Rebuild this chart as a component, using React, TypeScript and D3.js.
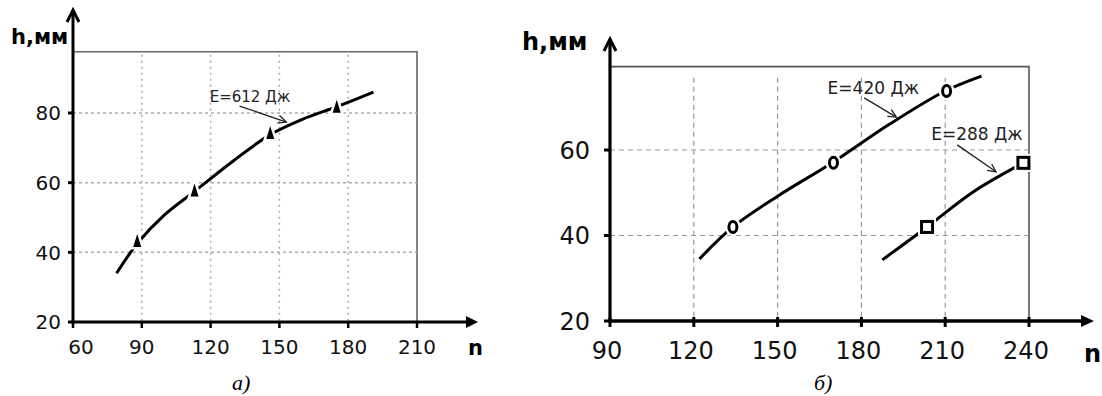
import React from 'react'
import * as d3 from 'd3'

// panel а) E=612 Дж
const leftTicksX = [60, 90, 120, 150, 180, 210]
const leftTicksY = [20, 40, 60, 80]
const leftCurveN = [79, 88, 100, 113, 130, 146, 160, 175, 191]
const leftCurveH = [34, 42.5, 50.8, 57.5, 66.3, 73.8, 78.2, 81.8, 86]
const leftMarkN = [88, 113, 146, 175]
const leftMarkH = [43, 57.5, 74, 81.5]

// panel б) E=420 Дж and E=288 Дж
const rightTicksX = [90, 120, 150, 180, 210, 240]
const rightTicksY = [20, 40, 60]
const e420CurveN = [122, 134, 150, 170, 190, 210, 223]
const e420CurveH = [34.5, 42, 49.2, 57.2, 66, 73.8, 77.3]
const e420MarkN = [134, 170, 210.5]
const e420MarkH = [42, 57, 73.8]
const e288CurveN = [187.5, 203.5, 220, 238]
const e288CurveH = [34.3, 42, 50.2, 57]
const e288MarkN = [203.5, 238]
const e288MarkH = [42, 57]

const sans = 'DejaVu Sans, sans-serif'

const zip = (a: number[], b: number[]) => a.map((v, i) => [v, b[i]] as [number, number])

type Note = { label: string, tx: number, ty: number, x1: number, y1: number, x2: number, y2: number }

const arrowNote = (n: Note, x: any, y: any, fs: number, key: string) => {
  const ax1 = x(n.x1), ay1 = y(n.y1), ax2 = x(n.x2), ay2 = y(n.y2)
  const ang = Math.atan2(ay2 - ay1, ax2 - ax1)
  const len = 9
  const p1 = [ax2 - len * Math.cos(ang - 0.45), ay2 - len * Math.sin(ang - 0.45)]
  const p2 = [ax2 - len * Math.cos(ang + 0.45), ay2 - len * Math.sin(ang + 0.45)]
  return (
    <g key={key}>
      <text x={x(n.tx)} y={y(n.ty)} fontFamily={sans} fontSize={fs} fill='#222'>{n.label}</text>
      <line x1={ax1} y1={ay1} x2={ax2} y2={ay2} stroke='#222' strokeWidth={1.3} />
      <path d={`M${p1[0]},${p1[1]}L${ax2},${ay2}L${p2[0]},${p2[1]}`} fill='none' stroke='#222' strokeWidth={1.3} />
    </g>
  )
}

function LeftPanel () {
  const x = d3.scaleLinear().domain([60, 210]).range([73, 417])
  const y = d3.scaleLinear().domain([20, 80]).range([322, 113])
  const top = y(97.6)
  const line = d3.line<[number, number]>().x(d => x(d[0])).y(d => y(d[1])).curve(d3.curveCatmullRom)
  const note: Note = { label: 'E=612 Дж', tx: 119.6, ty: 83.2, x1: 132.6, y1: 82, x2: 153, y2: 77.4 }
  const tri = (cx: number, cy: number) => `M${cx},${cy - 8}L${cx + 4},${cy + 5}L${cx - 4},${cy + 5}Z`
  return (
    <g>
      {/* frame */}
      <path d={`M${x(60)},${top}H${x(210)}V${y(20)}`} fill='none' stroke='#666' strokeWidth={1.6} />
      {/* grid */}
      {leftTicksX.slice(1, -1).map(t => (
        <line key={'gx' + t} x1={x(t)} x2={x(t)} y1={top + 3} y2={y(20)} stroke='#aaa' strokeWidth={1.5} strokeDasharray='2,4' />
      ))}
      {leftTicksY.slice(1).map(t => (
        <line key={'gy' + t} x1={x(60)} x2={x(210)} y1={y(t)} y2={y(t)} stroke='#aaa' strokeWidth={1.5} strokeDasharray='3,3' />
      ))}
      {/* axes */}
      <line x1={x(60)} x2={x(60)} y1={y(20)} y2={10} stroke='#000' strokeWidth={3} />
      <path d={`M${x(60) - 6},${22}L${x(60)},${10}L${x(60) + 6},${22}`} fill='none' stroke='#000' strokeWidth={3} />
      <line x1={x(60) - 1.5} x2={468} y1={y(20)} y2={y(20)} stroke='#000' strokeWidth={3.2} />
      <path d={`M466,${y(20) - 6}L478,${y(20)}L466,${y(20) + 6}Z`} fill='#000' />
      {leftTicksY.map(t => (
        <g key={'ty' + t}>
          <line x1={x(60) - 5} x2={x(60)} y1={y(t)} y2={y(t)} stroke='#000' strokeWidth={3} />
          <text x={61} y={y(t)} dy='0.36em' textAnchor='end' fontFamily={sans} fontSize={20} fill='#111'>{t}</text>
        </g>
      ))}
      {leftTicksX.map((t, i) => (
        <g key={'tx' + t}>
          <line x1={x(t)} x2={x(t)} y1={y(20)} y2={y(20) + 6} stroke='#000' strokeWidth={2.5} />
          <text x={x(t) + (i === 0 ? 8 : 0)} y={354} textAnchor='middle' fontFamily={sans} fontSize={20} fill='#111'>{t}</text>
        </g>
      ))}
      <text x={11} y={44} fontFamily={sans} fontWeight='bold' fontSize={21} fill='#000'>h,мм</text>
      <text x={468} y={355} fontFamily={sans} fontWeight='bold' fontSize={21} fill='#000'>n</text>
      <text x={232} y={390} fontFamily='Liberation Serif, serif' fontStyle='italic' fontSize={22} fill='#000'>а)</text>
      {/* curve */}
      <path d={line(zip(leftCurveN, leftCurveH)) || ''} fill='none' stroke='#000' strokeWidth={3} />
      {zip(leftMarkN, leftMarkH).map((d, i) => (
        <path key={'m' + i} d={tri(x(d[0]), y(d[1]))} fill='#000' stroke='#fff' strokeWidth={5} paintOrder='stroke' />
      ))}
      {arrowNote(note, x, y, 15, 'n612')}
    </g>
  )
}

function RightPanel () {
  const x = d3.scaleLinear().domain([90, 240]).range([610, 1029])
  const y = d3.scaleLinear().domain([20, 60]).range([321, 150])
  const top = y(79.5)
  const line = d3.line<[number, number]>().x(d => x(d[0])).y(d => y(d[1])).curve(d3.curveCatmullRom)
  const notes: Note[] = [
    { label: 'E=420 Дж', tx: 167.9, ty: 73.1, x1: 181, y1: 72.2, x2: 192.5, y2: 67.7 },
    { label: 'E=288 Дж', tx: 205, ty: 62.3, x1: 214.3, y1: 61.2, x2: 228.2, y2: 54.9 }
  ]
  return (
    <g>
      <path d={`M${x(90)},${top}H${x(240)}V${y(20)}`} fill='none' stroke='#555' strokeWidth={1.6} />
      {rightTicksX.slice(1, -1).map(t => (
        <line key={'gx' + t} x1={x(t)} x2={x(t)} y1={top + 11} y2={y(20)} stroke='#999' strokeWidth={1.2} strokeDasharray='5,4' />
      ))}
      {rightTicksY.slice(1).map(t => (
        <line key={'gy' + t} x1={x(90)} x2={x(240)} y1={y(t)} y2={y(t)} stroke='#999' strokeWidth={1.2} strokeDasharray='5,4' />
      ))}
      <line x1={x(90)} x2={x(90)} y1={y(20)} y2={39} stroke='#000' strokeWidth={3.2} />
      <path d={`M${x(90) - 6},${51}L${x(90)},${39}L${x(90) + 6},${51}`} fill='none' stroke='#000' strokeWidth={3} />
      <line x1={x(90) - 1.5} x2={1084} y1={y(20)} y2={y(20)} stroke='#000' strokeWidth={3.4} />
      <path d={`M1081,${y(20) - 6}L1094,${y(20)}L1081,${y(20) + 6}Z`} fill='#000' />
      {rightTicksY.map(t => (
        <g key={'ty' + t}>
          <line x1={x(90) - 6} x2={x(90)} y1={y(t)} y2={y(t)} stroke='#000' strokeWidth={3} />
          <text x={590} y={y(t)} dy='0.36em' textAnchor='end' fontFamily={sans} fontSize={24} fill='#111'>{t}</text>
        </g>
      ))}
      {rightTicksX.map(t => (
        <g key={'tx' + t}>
          <line x1={x(t)} x2={x(t)} y1={y(20) - 4} y2={y(20) + 6} stroke='#000' strokeWidth={3} />
          <text x={x(t) - 3} y={359} textAnchor='middle' fontFamily={sans} fontSize={24} fill='#111'>{t}</text>
        </g>
      ))}
      <text x={522} y={50} fontFamily={sans} fontWeight='bold' fontSize={24} fill='#000'>h,мм</text>
      <text x={1084} y={362} fontFamily={sans} fontWeight='bold' fontSize={24} fill='#000'>n</text>
      <text x={814} y={390} fontFamily='Liberation Serif, serif' fontStyle='italic' fontSize={22} fill='#000'>б)</text>
      <path d={line(zip(e420CurveN, e420CurveH)) || ''} fill='none' stroke='#000' strokeWidth={3} />
      <path d={line(zip(e288CurveN, e288CurveH)) || ''} fill='none' stroke='#000' strokeWidth={3} />
      {zip(e420MarkN, e420MarkH).map((d, i) => (
        <g key={'c' + i}>
          <ellipse cx={x(d[0])} cy={y(d[1])} rx={8} ry={9} fill='#fff' />
          <ellipse cx={x(d[0])} cy={y(d[1])} rx={4} ry={5.5} fill='#fff' stroke='#000' strokeWidth={3} />
        </g>
      ))}
      {zip(e288MarkN, e288MarkH).map((d, i) => (
        <g key={'s' + i}>
          <rect x={x(d[0]) - 9} y={y(d[1]) - 9} width={18} height={18} fill='#fff' />
          <rect x={x(d[0]) - 5.5} y={y(d[1]) - 5.5} width={11} height={11} fill='#fff' stroke='#000' strokeWidth={3} />
        </g>
      ))}
      {notes.map((n, i) => arrowNote(n, x, y, 17, 'r' + i))}
    </g>
  )
}

export default function App () {
  return (
    <div style={{ position: 'absolute', left: 0, top: 0 }}>
      <svg width={1102} height={396} style={{ display: 'block', background: '#fff' }}>
        <LeftPanel />
        <RightPanel />
      </svg>
    </div>
  )
}
